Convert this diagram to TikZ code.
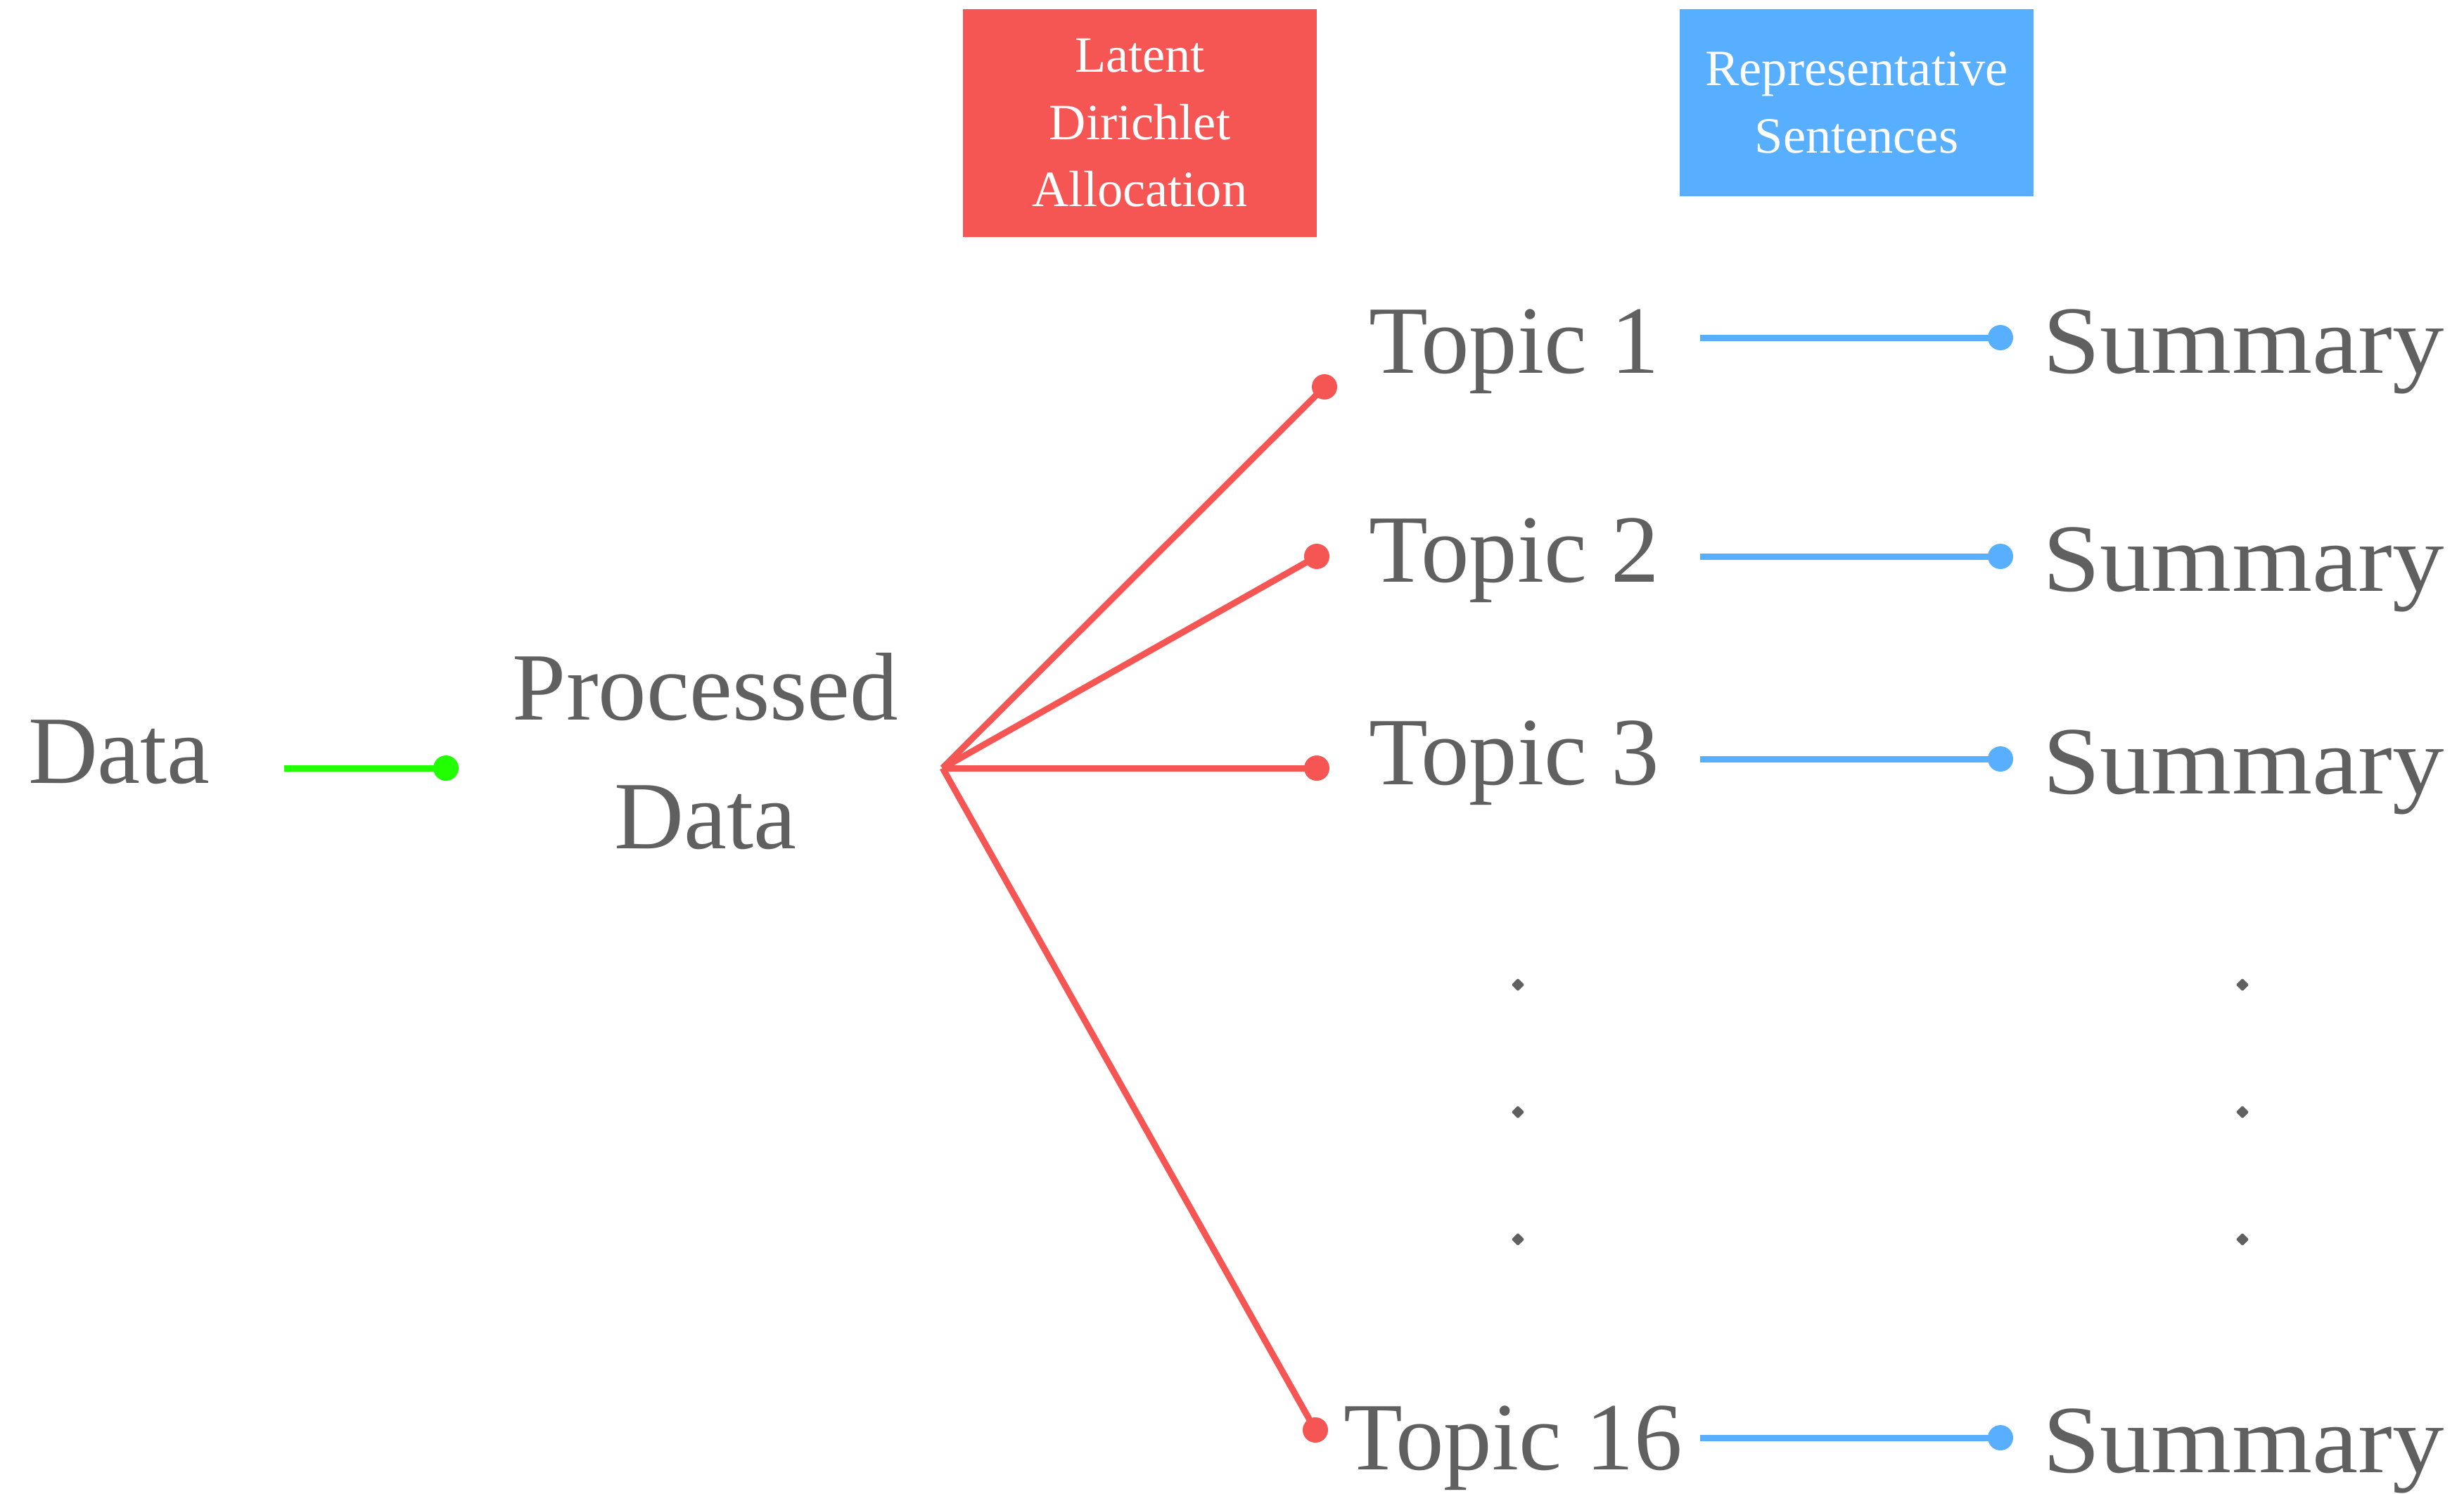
\documentclass[tikz,border=0pt]{standalone}
\usepackage{fontspec}
\usetikzlibrary{shapes.geometric}
\setmainfont{Liberation Serif}
\definecolor{txtgray}{HTML}{606060}
\definecolor{ldared}{HTML}{F55653}
\definecolor{repblue}{HTML}{58AFFF}
\definecolor{dgreen}{HTML}{22FF00}
\begin{document}
\begin{tikzpicture}[x=1cm,y=1cm,
  bigtxt/.style={text=txtgray,font=\fontsize{39}{52}\selectfont,inner sep=0pt,outer sep=0pt},
  boxtxt/.style={text=white,font=\fontsize{20.6}{27.2}\selectfont,align=center,inner sep=0pt},
  dotend/.style={circle,fill=#1,inner sep=0pt,minimum size=0.36cm},
  conn/.style={line width=0.09cm,draw=#1},
  vdot/.style={diamond,fill=txtgray,rounded corners=0.02cm,inner sep=0pt,minimum size=0.19cm}]
\useasboundingbox (0,0) rectangle (35.03,-21.24);
% header boxes
\node[fill=ldared,minimum width=5.03cm,minimum height=3.24cm,inner sep=0pt] (lda) at (16.205,-1.75) {};
\node[boxtxt] (ldat) at (lda.center) {Latent\\Dirichlet\\Allocation};
\node[fill=repblue,minimum width=5.03cm,minimum height=2.66cm,inner sep=0pt] (rep) at (26.395,-1.46) {};
\node[boxtxt] (rept) at (rep.center) {Representative\\Sentences};
% data
\node[bigtxt,anchor=base west] (data) at (0.40,-11.13) {Data};
\node[bigtxt,anchor=base] (proc1) at (10.03,-10.23) {Processed};
\node[bigtxt,anchor=base] (proc2) at (10.03,-12.06) {Data};
\coordinate (gs) at (4.04,-10.92);
\node[dotend=dgreen] (gd) at (6.34,-10.92) {};
\draw[conn=dgreen] (gs) -- (gd.center);
% LDA branches
\coordinate (src) at (13.40,-10.92);
\node[dotend=ldared] (r1) at (18.83,-5.50) {};
\node[dotend=ldared] (r2) at (18.72,-7.91) {};
\node[dotend=ldared] (r3) at (18.72,-10.92) {};
\node[dotend=ldared] (r4) at (18.70,-20.33) {};
\foreach \r in {r1,r2,r3,r4} \draw[conn=ldared,line join=round] (src) -- (\r.center);
% topics
\node[bigtxt,anchor=base west] (t1) at (19.46,-5.30) {Topic 1};
\node[bigtxt,anchor=base west] (t2) at (19.46,-8.27) {Topic 2};
\node[bigtxt,anchor=base west] (t3) at (19.46,-11.15) {Topic 3};
\node[bigtxt,anchor=base west] (t4) at (19.10,-20.89) {Topic 16};
% blue connectors
\coordinate (b1s) at (24.17,-4.80);
\coordinate (b2s) at (24.17,-7.91);
\coordinate (b3s) at (24.17,-10.79);
\coordinate (b4s) at (24.17,-20.44);
\node[dotend=repblue] (b1) at (28.44,-4.80) {};
\node[dotend=repblue] (b2) at (28.44,-7.91) {};
\node[dotend=repblue] (b3) at (28.44,-10.79) {};
\node[dotend=repblue] (b4) at (28.44,-20.44) {};
\foreach \i in {1,2,3,4} \draw[conn=repblue] (b\i s) -- (b\i.center);
% summaries
\node[bigtxt,anchor=base west,xscale=1.07] (s1) at (29.04,-5.30) {Summary};
\node[bigtxt,anchor=base west,xscale=1.07] (s2) at (29.04,-8.40) {Summary};
\node[bigtxt,anchor=base west,xscale=1.07] (s3) at (29.04,-11.28) {Summary};
\node[bigtxt,anchor=base west,xscale=1.07] (s4) at (29.04,-20.93) {Summary};
% vertical dots
\foreach \y [count=\k] in {14.00,15.81,17.62} {
  \node[vdot] (vl\k) at (21.58,-\y) {};
  \node[vdot] (vr\k) at (31.88,-\y) {};
}
\end{tikzpicture}
\end{document}
